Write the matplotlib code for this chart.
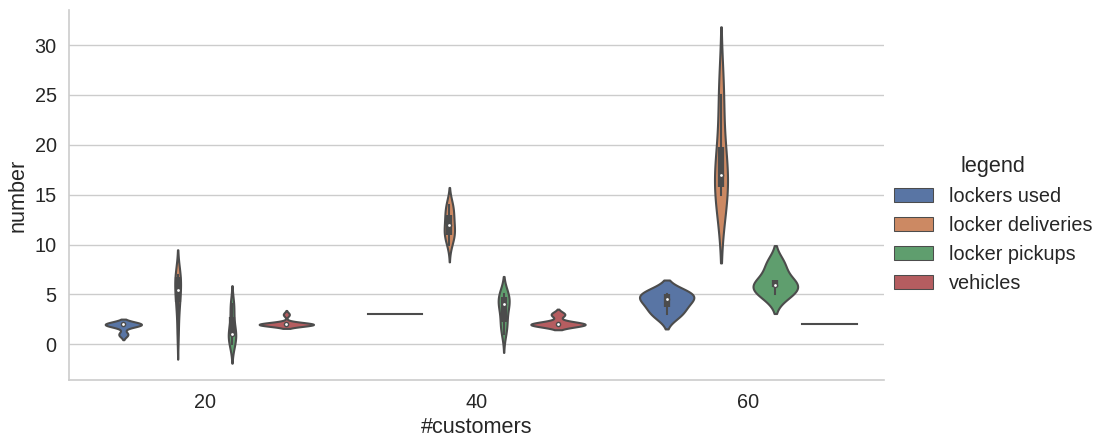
import colorsys
import numpy as np
import matplotlib
matplotlib.use("Agg")
import matplotlib.pyplot as plt
from matplotlib.patches import Rectangle

# ---- data -------------------------------------------------------------
customers = [20, 40, 60]
series = ["lockers used", "locker deliveries", "locker pickups", "vehicles"]

lockers_used_20 = [1, 1, 2, 2, 2, 2, 2, 2, 2, 2]
lockers_used_40 = [3, 3, 3, 3, 3, 3, 3, 3, 3, 3]
lockers_used_60 = [3, 4, 5, 5]

locker_deliveries_20 = [1, 3, 4, 5, 5, 6, 6, 7, 7, 7]
locker_deliveries_40 = [10, 11, 11, 11, 12, 12, 13, 13, 14, 14]
locker_deliveries_60 = [15, 16, 18, 25]

locker_pickups_20 = [0, 0, 1, 1, 1, 1, 2, 3, 4, 4]
locker_pickups_40 = [1, 2, 2, 3, 4, 4, 4, 5, 5, 5]
locker_pickups_60 = [5, 6, 6, 8]

vehicles_20 = [2, 2, 2, 2, 2, 2, 2, 2, 2, 3]
vehicles_40 = [2, 2, 2, 2, 2, 2, 2, 2, 3, 3]
vehicles_60 = [2, 2, 2, 2]

observations = {
    "lockers used": [lockers_used_20, lockers_used_40, lockers_used_60],
    "locker deliveries": [locker_deliveries_20, locker_deliveries_40, locker_deliveries_60],
    "locker pickups": [locker_pickups_20, locker_pickups_40, locker_pickups_60],
    "vehicles": [vehicles_20, vehicles_40, vehicles_60],
}

# ---- style ------------------------------------------------------------
base_colors = ["#4C72B0", "#DD8452", "#55A868", "#C44E52"]
saturation = 0.75


def desaturate(hex_color, prop):
    r, g, b = matplotlib.colors.to_rgb(hex_color)
    h, l, s = colorsys.rgb_to_hls(r, g, b)
    return colorsys.hls_to_rgb(h, l, s * prop)


colors = [desaturate(c, saturation) for c in base_colors]
lum = min(colorsys.rgb_to_hls(*c)[1] for c in colors) * 0.6
gray = (lum, lum, lum)
text_color = "0.15"

plt.rcParams["font.family"] = ["Liberation Sans", "DejaVu Sans"]
plt.rcParams["text.color"] = text_color
plt.rcParams["axes.labelcolor"] = text_color
plt.rcParams["xtick.color"] = text_color
plt.rcParams["ytick.color"] = text_color

linewidth = 1.5
width = 0.8
n_hue = len(series)
each_width = width / n_hue
offsets = np.linspace(0, width - each_width, n_hue) - (width - each_width) / 2
dwidth = each_width / 2


def kde(values, gridsize=100, cut=2):
    x = np.asarray(values, float)
    n = x.size
    bw = n ** (-1 / 5) * x.std(ddof=1)
    support = np.linspace(x.min() - cut * bw, x.max() + cut * bw, gridsize)
    dens = np.exp(-0.5 * ((support[:, None] - x[None, :]) / bw) ** 2).sum(axis=1)
    dens /= n * bw * np.sqrt(2 * np.pi)
    return support, dens


# ---- figure -----------------------------------------------------------
fig = plt.figure(figsize=(11.08, 4.41), dpi=100)
ax = fig.add_axes([69 / 1108, 61 / 441, 815 / 1108, 370 / 441])

for i, cust in enumerate(customers):
    estimates = []
    for name in series:
        vals = np.asarray(observations[name][i], float)
        if np.unique(vals).size == 1:
            estimates.append((vals, None, None))
        else:
            s, d = kde(vals)
            estimates.append((vals, s, d))
    group_max = max(d.max() for _, _, d in estimates if d is not None)

    for j, (vals, support, dens) in enumerate(estimates):
        center = i + offsets[j]
        if support is None:
            ax.plot([center - dwidth, center + dwidth], [vals[0], vals[0]],
                    color=gray, linewidth=linewidth)
            continue
        dens = dens / group_max * dwidth
        ax.fill_betweenx(support, center - dens, center + dens,
                         facecolor=colors[j], edgecolor=gray,
                         linewidth=linewidth)
        q25, q50, q75 = np.percentile(vals, [25, 50, 75])
        lim = 1.5 * (q75 - q25)
        h1 = np.min(vals[vals >= q25 - lim])
        h2 = np.max(vals[vals <= q75 + lim])
        ax.plot([center, center], [h1, h2], color=gray, linewidth=linewidth)
        ax.plot([center, center], [q25, q75], color=gray,
                linewidth=linewidth * 3, solid_capstyle="butt")
        ax.scatter(center, q50, s=np.square(linewidth * 2), color="white",
                   edgecolor=gray, zorder=3)

ax.set_xlim(-0.5, len(customers) - 0.5)
ax.set_xticks(range(len(customers)))
ax.set_xticklabels([str(c) for c in customers])
ax.set_xlabel("#customers", fontsize=15.6)
ax.set_ylabel("number", fontsize=15.6)
ax.tick_params(axis="both", length=0, labelsize=14.3, pad=9)

ax.grid(axis="y", color="0.8", linewidth=1.0)
ax.set_axisbelow(True)
for side in ("top", "right"):
    ax.spines[side].set_visible(False)
for side in ("left", "bottom"):
    ax.spines[side].set_color("0.8")
    ax.spines[side].set_linewidth(1.2)

handles = [Rectangle((0, 0), 0, 0, facecolor=c, edgecolor=gray,
                     linewidth=linewidth / 2) for c in colors]
fig.legend(handles, series, title="legend", frameon=False,
           loc="center left", bbox_to_anchor=(0.7905, 0.491),
           fontsize=14.3, title_fontsize=15.6)

fig.savefig("out.png", dpi=100)
